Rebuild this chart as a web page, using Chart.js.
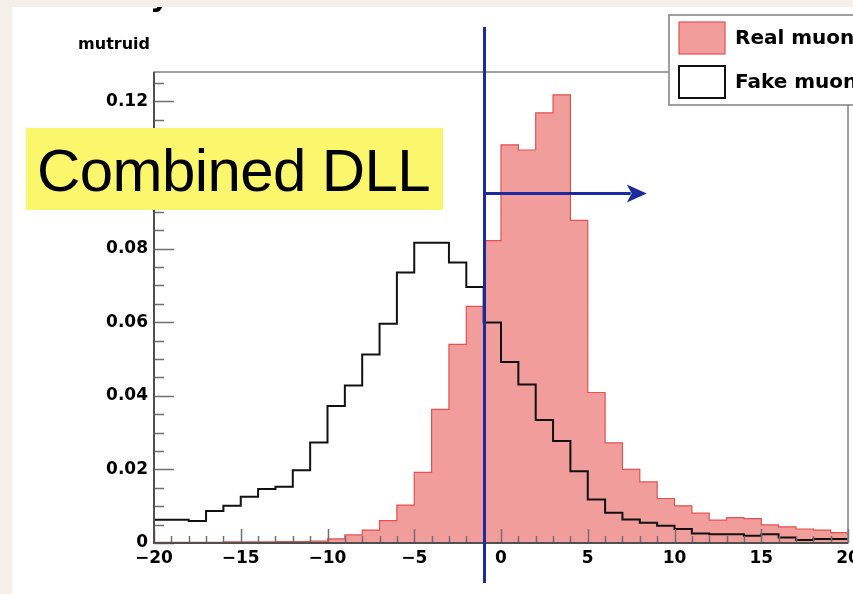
<!DOCTYPE html>
<html>
<head>
<meta charset="utf-8">
<script src="https://cdn.jsdelivr.net/npm/chart.js@4.4.1/dist/chart.umd.min.js"></script>
<style>
  html, body { margin: 0; padding: 0; width: 853px; height: 594px; overflow: hidden; background: #f4f0e9; }
  #card { position: absolute; left: 12px; top: 7px; right: 0; bottom: 0; background: #fff; overflow: hidden; }
  #card canvas { position: absolute; left: -12px; top: -7px; }
  #tag {
    position: absolute; left: 14px; top: 121px; width: 417px; height: 82px;
    background: #faf76c; color: #000; box-sizing: border-box; padding-left: 11px;
    font-family: 'Liberation Sans', Arial, sans-serif; font-size: 60px; line-height: 86px;
    white-space: nowrap; letter-spacing: -0.6px;
  }
</style>
</head>
<body>
<div id="card">
  <canvas id="dll" width="853" height="594"></canvas>
  <div id="tag">Combined DLL</div>
</div>
<script>
// lower edges of the 1-unit DLL bins
var binLow = [-20, -19, -18, -17, -16, -15, -14, -13, -12, -11,
              -10, -9, -8, -7, -6, -5, -4, -3, -2, -1,
              0, 1, 2, 3, 4, 5, 6, 7, 8, 9,
              10, 11, 12, 13, 14, 15, 16, 17, 18, 19];
var xMax = 20;

var realMuon = [0.0002, 0.0002, 0.0002, 0.0002, 0.0003, 0.0003, 0.0003, 0.0004, 0.0004, 0.0005,
                0.0011, 0.0022, 0.0035, 0.0061, 0.0103, 0.0192, 0.0363, 0.0540, 0.0643, 0.0822,
                0.1082, 0.1068, 0.1169, 0.1218, 0.0877, 0.0409, 0.0272, 0.0200, 0.0166, 0.0121,
                0.0101, 0.0081, 0.0062, 0.0069, 0.0066, 0.0049, 0.0044, 0.0038, 0.0035, 0.0028];

var fakeMuon = [0.0063, 0.0063, 0.0060, 0.0087, 0.0101, 0.0126, 0.0147, 0.0153, 0.0198, 0.0273,
                0.0372, 0.0428, 0.0512, 0.0596, 0.0735, 0.0816, 0.0816, 0.0762, 0.0696, 0.0599,
                0.0492, 0.0431, 0.0334, 0.0277, 0.0195, 0.0118, 0.0082, 0.0064, 0.0055, 0.0047,
                0.0038, 0.0026, 0.0024, 0.0024, 0.0020, 0.0024, 0.0015, 0.0008, 0.0011, 0.0011];

var xTicks = [-20, -15, -10, -5, 0, 5, 10, 15, 20];
var yTicks = [0, 0.02, 0.04, 0.06, 0.08, 0.10, 0.12];
var yMax = 0.128;

var legendLabels = ['Real muon', 'Fake muon'];
var yTitle = 'mutruid';

// selection cut and the arrow pointing to the accepted side
var cutValue = -0.95;
var arrowLevel = 0.095;
var arrowEnd = 8.4;

var tickFont = { family: 'DejaVu Sans', size: 17, weight: 'bold' };
var blue = '#1b2a9e';

function histPoints(values) {
    var pts = binLow.map(function (x, i) {
        return { x: x, y: values[i] };
    });
    pts.push({ x: xMax, y: values[values.length - 1] });
    return pts;
}

function signed(v) {
    return v < 0 ? '\u2212' + Math.abs(v) : String(v);
}

var frameDecor = {
    id: 'frameDecor',
    afterDatasetsDraw: function (chart) {
        var ctx = chart.ctx;
        var area = chart.chartArea;
        var xs = chart.scales.x;
        var ys = chart.scales.y;
        var i, px, py, len;

        ctx.save();

        // inner tick marks
        ctx.strokeStyle = '#707070';
        ctx.lineWidth = 1.5;
        ctx.beginPath();
        for (i = -20; i <= 20; i++) {
            px = Math.round(xs.getPixelForValue(i)) + 0.5;
            len = i % 5 === 0 ? 14 : 7;
            ctx.moveTo(px, area.bottom);
            ctx.lineTo(px, area.bottom - len);
        }
        for (i = 0; i <= 25; i++) {
            py = Math.round(ys.getPixelForValue(i * 0.005)) + 0.5;
            len = i % 4 === 0 ? 20 : 10;
            ctx.moveTo(area.left, py);
            ctx.lineTo(area.left + len, py);
        }
        ctx.stroke();

        // frame
        ctx.strokeStyle = '#808080';
        ctx.lineWidth = 1.5;
        ctx.strokeRect(area.left, area.top, area.right - area.left, area.bottom - area.top);
        ctx.strokeStyle = '#505050';
        ctx.lineWidth = 2;
        ctx.beginPath();
        ctx.moveTo(area.left, area.top);
        ctx.lineTo(area.left, area.bottom);
        ctx.lineTo(area.right, area.bottom);
        ctx.stroke();

        // cut line and arrow
        var cx = xs.getPixelForValue(cutValue);
        var ay = ys.getPixelForValue(arrowLevel);
        var ax = xs.getPixelForValue(arrowEnd);
        ctx.strokeStyle = blue;
        ctx.fillStyle = blue;
        ctx.lineWidth = 3;
        ctx.beginPath();
        ctx.moveTo(cx, area.top - 45);
        ctx.lineTo(cx, area.bottom + 40);
        ctx.moveTo(cx, ay);
        ctx.lineTo(ax - 16, ay);
        ctx.stroke();
        ctx.beginPath();
        ctx.moveTo(ax, ay);
        ctx.lineTo(ax - 20, ay - 9);
        ctx.lineTo(ax - 15, ay);
        ctx.lineTo(ax - 20, ay + 9);
        ctx.closePath();
        ctx.fill();

        // axis title
        ctx.fillStyle = '#000';
        ctx.font = 'bold 16px "DejaVu Sans"';
        ctx.textAlign = 'right';
        ctx.textBaseline = 'middle';
        ctx.fillText(yTitle, area.left - 4, area.top - 27);

        // plot title, only its lower edge shows
        ctx.textAlign = 'left';
        ctx.textBaseline = 'alphabetic';
        ctx.font = 'bold 30px "DejaVu Sans"';
        ctx.fillText('y', 150, 6);

        // legend box
        var lx = 669, ly = 15;
        ctx.fillStyle = '#fff';
        ctx.fillRect(lx, ly, chart.width - lx + 10, 90);
        ctx.strokeStyle = '#808080';
        ctx.lineWidth = 1.5;
        ctx.strokeRect(lx, ly, chart.width - lx + 10, 90);
        var entries = [chart.data.datasets[1], chart.data.datasets[0]];
        ctx.font = 'bold 20px "DejaVu Sans"';
        ctx.textBaseline = 'middle';
        entries.forEach(function (ds, k) {
            var by = ly + 7 + k * 44;
            ctx.fillStyle = ds.fill ? ds.backgroundColor : '#fff';
            ctx.fillRect(lx + 10, by, 46, 32);
            ctx.strokeStyle = ds.borderColor;
            ctx.lineWidth = ds.fill ? 1.2 : 2;
            ctx.strokeRect(lx + 10, by, 46, 32);
            ctx.fillStyle = '#000';
            ctx.fillText(legendLabels[k], lx + 66, by + 17);
        });

        ctx.restore();
    }
};

new Chart(document.getElementById('dll'), {
    type: 'line',
    data: {
        datasets: [
            {
                label: legendLabels[1],
                data: histPoints(fakeMuon),
                stepped: true,
                borderColor: '#111111',
                borderWidth: 2,
                fill: false,
                pointRadius: 0,
                order: 0
            },
            {
                label: legendLabels[0],
                data: histPoints(realMuon),
                stepped: true,
                borderColor: '#e6504e',
                borderWidth: 1.2,
                backgroundColor: '#f19d9c',
                fill: 'origin',
                pointRadius: 0,
                order: 1
            }
        ]
    },
    options: {
        responsive: false,
        animation: false,
        devicePixelRatio: 1,
        layout: {
            padding: { left: 0, top: 72, right: 5, bottom: 0 }
        },
        plugins: {
            legend: { display: false },
            tooltip: { enabled: false }
        },
        scales: {
            x: {
                type: 'linear',
                min: -20,
                max: 20,
                grid: { display: false, drawTicks: false },
                border: { display: false },
                ticks: {
                    font: tickFont,
                    color: '#000',
                    padding: 5,
                    maxRotation: 0,
                    autoSkip: false,
                    callback: function (v) { return signed(v); }
                },
                afterBuildTicks: function (scale) {
                    scale.ticks = xTicks.map(function (v) { return { value: v }; });
                },
                afterFit: function (scale) {
                    scale.height = 51;
                    scale.paddingLeft = 0;
                    scale.paddingRight = 0;
                }
            },
            y: {
                min: 0,
                max: yMax,
                grid: { display: false, drawTicks: false },
                border: { display: false },
                ticks: {
                    font: tickFont,
                    color: '#000',
                    padding: 6,
                    callback: function (v) { return v === 0 ? '0' : v.toFixed(2); }
                },
                afterBuildTicks: function (scale) {
                    scale.ticks = yTicks.map(function (v) { return { value: v }; });
                },
                afterFit: function (scale) {
                    scale.width = 154;
                    scale.paddingTop = 0;
                    scale.paddingBottom = 0;
                }
            }
        }
    },
    plugins: [frameDecor]
});
</script>
</body>
</html>
